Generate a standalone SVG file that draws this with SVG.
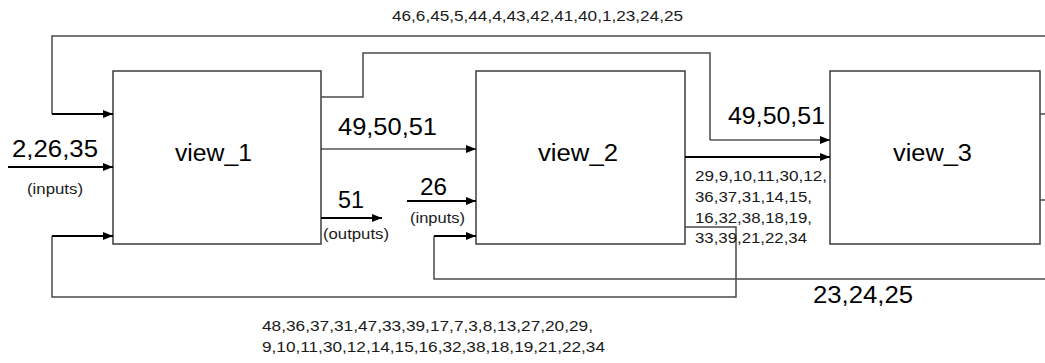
<svg xmlns="http://www.w3.org/2000/svg" width="1045" height="363" viewBox="0 0 1045 363">
  <style>
    .box { fill: #ffffff; stroke: #3c3c3c; stroke-width: 1.5; }
    .wire { fill: none; stroke: #4a4a4a; stroke-width: 1.5; }
    .arrow { fill: none; stroke: #000000; stroke-width: 2.2; }
    .thin { fill: none; stroke: #000000; stroke-width: 1.2; }
    .name { font-family: "Liberation Sans", Arial, sans-serif; font-size: 23px; fill: #000; }
    .big { font-family: "Liberation Sans", Arial, sans-serif; font-size: 23px; fill: #000; }
    .small { font-family: "Liberation Sans", Arial, sans-serif; font-size: 14px; fill: #1a1a1a; }
  </style>
  <defs>
    <marker id="head" viewBox="0 0 10 8" refX="10" refY="4" markerWidth="11" markerHeight="8" markerUnits="userSpaceOnUse" orient="auto">
      <path d="M0,0 L10,4 L0,8 Z" fill="#000"/>
    </marker>
  </defs>
  <rect width="1045" height="363" fill="#ffffff"/>

  <!-- processing blocks -->
  <g id="view_1">
    <rect class="box" x="113" y="71" width="208" height="173"/>
    <text class="name" x="175" y="161" textLength="77" lengthAdjust="spacingAndGlyphs">view_1</text>
  </g>
  <g id="view_2">
    <rect class="box" x="476" y="71" width="209" height="173"/>
    <text class="name" x="538" y="161" textLength="80" lengthAdjust="spacingAndGlyphs">view_2</text>
  </g>
  <g id="view_3">
    <rect class="box" x="830" y="71" width="210" height="173"/>
    <text class="name" x="893" y="161" textLength="79" lengthAdjust="spacingAndGlyphs">view_3</text>
  </g>

  <!-- signal lines -->
  <g id="connectors">
    <!-- feedback from the right into view_1 (top) -->
    <path class="wire" d="M1045,36 H52 V114"/>
    <path class="arrow" d="M52,114 H113" marker-end="url(#head)"/>
    <!-- view_1 to view_3 over the top of view_2 -->
    <path class="wire" d="M321,97 H363 V53 H710 V140"/>
    <path class="thin" d="M710,140 H830" marker-end="url(#head)"/>
    <!-- external inputs of view_1 -->
    <path class="arrow" d="M8,167 H113" marker-end="url(#head)"/>
    <!-- view_1 to view_2 -->
    <path class="thin" d="M321,149 H476" marker-end="url(#head)"/>
    <!-- output of view_1 -->
    <path class="arrow" d="M321,218 H382" marker-end="url(#head)"/>
    <!-- external input of view_2 -->
    <path class="arrow" d="M407,201 H476" marker-end="url(#head)"/>
    <!-- view_2 to view_3 -->
    <path class="arrow" d="M685,157 H830" marker-end="url(#head)"/>
    <!-- feedback from view_2 into view_1 (bottom) -->
    <path class="wire" d="M685,227 H736 V297 H52 V236"/>
    <path class="arrow" d="M52,236 H113" marker-end="url(#head)"/>
    <!-- feedback from the right into view_2 -->
    <path class="wire" d="M1045,279 H434 V236"/>
    <path class="arrow" d="M434,236 H476" marker-end="url(#head)"/>
    <!-- stubs on the right of view_3 -->
    <path class="wire" d="M1040,114 H1045 M1040,200 H1045"/>
  </g>

  <!-- signal labels -->
  <g id="labels">
    <text class="small" x="392" y="21" textLength="291" lengthAdjust="spacingAndGlyphs">46,6,45,5,44,4,43,42,41,40,1,23,24,25</text>
    <text class="big" x="12" y="157" textLength="86" lengthAdjust="spacingAndGlyphs">2,26,35</text>
    <text class="small" x="27" y="194" textLength="56" lengthAdjust="spacingAndGlyphs">(inputs)</text>
    <text class="big" x="338" y="135" textLength="99" lengthAdjust="spacingAndGlyphs">49,50,51</text>
    <text class="big" x="338" y="208" textLength="26" lengthAdjust="spacingAndGlyphs">51</text>
    <text class="small" x="323" y="239" textLength="66" lengthAdjust="spacingAndGlyphs">(outputs)</text>
    <text class="big" x="420" y="195" textLength="27" lengthAdjust="spacingAndGlyphs">26</text>
    <text class="small" x="410" y="223" textLength="55" lengthAdjust="spacingAndGlyphs">(inputs)</text>
    <text class="big" x="728" y="124" textLength="97" lengthAdjust="spacingAndGlyphs">49,50,51</text>
    <text class="small" x="695" y="181" textLength="132" lengthAdjust="spacingAndGlyphs">29,9,10,11,30,12,</text>
    <text class="small" x="695" y="202" textLength="117" lengthAdjust="spacingAndGlyphs">36,37,31,14,15,</text>
    <text class="small" x="695" y="223" textLength="117" lengthAdjust="spacingAndGlyphs">16,32,38,18,19,</text>
    <text class="small" x="695" y="243" textLength="112" lengthAdjust="spacingAndGlyphs">33,39,21,22,34</text>
    <text class="big" x="813" y="303" textLength="100" lengthAdjust="spacingAndGlyphs">23,24,25</text>
    <text class="small" x="262" y="331" textLength="331" lengthAdjust="spacingAndGlyphs">48,36,37,31,47,33,39,17,7,3,8,13,27,20,29,</text>
    <text class="small" x="262" y="352" textLength="343" lengthAdjust="spacingAndGlyphs">9,10,11,30,12,14,15,16,32,38,18,19,21,22,34</text>
  </g>
</svg>
